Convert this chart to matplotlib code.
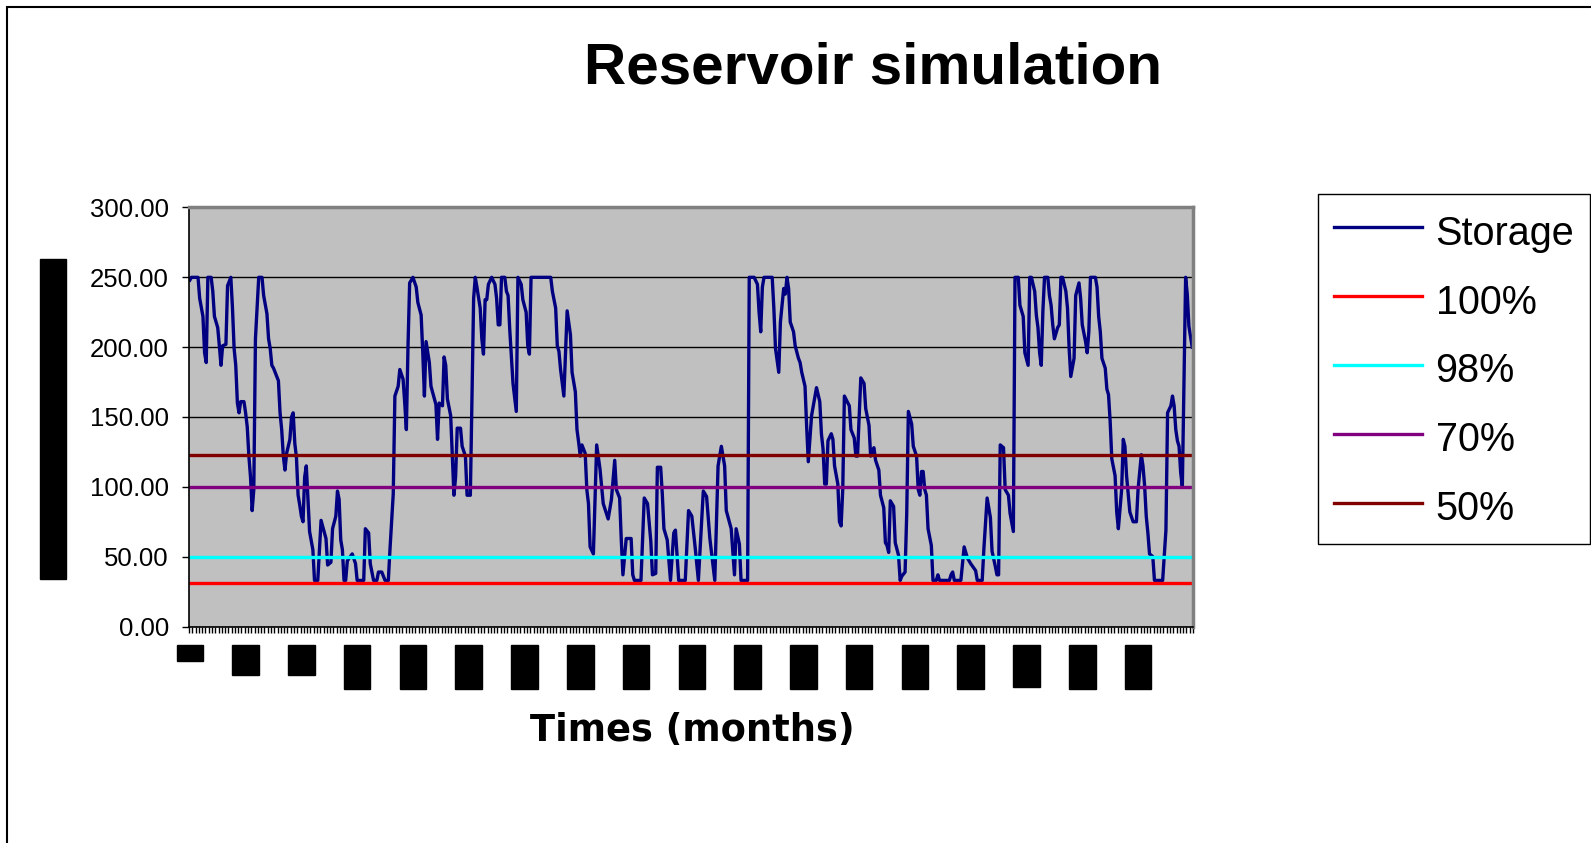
import numpy as np
import matplotlib
matplotlib.use("Agg")
import matplotlib.pyplot as plt
from matplotlib.patches import Rectangle

plt.rcParams["font.family"] = ["Liberation Sans", "DejaVu Sans"]

n_months = 612
label_step = 34

# corner points of the monthly storage series
months = [
    1, 2, 6, 7, 9, 10, 11, 12, 14, 15,
    16, 18, 19, 20, 21, 23, 24, 26, 27, 28,
    29, 30, 31, 32, 34, 35, 36, 37, 38, 39,
    40, 41, 43, 45, 46, 48, 49, 50, 51, 52,
    53, 55, 56, 57, 58, 59, 60, 62, 63, 64,
    65, 66, 67, 68, 69, 70, 71, 72, 74, 76,
    77, 79, 80, 81, 84, 85, 87, 88, 90, 91,
    92, 93, 94, 95, 96, 97, 100, 102, 103, 107,
    108, 110, 111, 113, 115, 116, 118, 120, 122, 123,
    125, 126, 128, 129, 131, 132, 133, 134, 135, 137,
    139, 140, 142, 143, 144, 145, 147, 148, 151, 152,
    153, 155, 156, 157, 158, 160, 161, 162, 163, 164,
    166, 167, 169, 170, 172, 174, 175,
    176, 178, 179, 180, 181, 182, 183, 185, 187, 188,
    189, 190, 191, 193, 194, 195, 196, 198, 200, 201,
    203, 204, 206, 207, 208, 209, 221, 222, 224, 225,
    226, 227, 229, 231, 233, 234, 236, 237, 238, 239,
    240, 242, 243, 244, 245, 247, 249, 251, 253, 256,
    258, 260, 261, 263, 264, 265, 267, 270, 271, 272,
    276, 278, 280, 282, 283, 285, 286, 288, 289, 290,
    292, 294, 296, 297, 299, 303, 305, 307, 309, 311,
    314, 316, 318, 321, 323, 325, 327, 328, 331, 333,
    334, 336, 337, 341, 342,
    345, 347, 348, 349, 350, 351, 356, 357, 358, 360,
    361, 363, 364, 365, 366, 367, 369, 370, 372, 373,
    374, 376, 377, 378, 380, 383, 385, 386, 387, 388,
    389, 390, 392, 393, 394, 396, 397, 398, 399, 400,
    403, 404, 406, 407, 408, 410, 412, 413, 415, 416,
    417, 418, 419, 421, 422, 424, 425, 426, 427, 428,
    430, 431, 433, 434, 435, 437, 438, 439, 441, 442,
    444, 445, 446, 447, 448, 449, 450, 451, 453, 454,
    456, 457, 458, 464, 465, 466, 467, 471, 473, 475,
    477, 480, 481, 484, 485, 487, 489, 490, 492, 493,
    494, 495,
    497, 498, 500, 501, 503, 504, 506, 507, 509, 510,
    512, 513, 514, 516, 517, 518, 519, 520, 521, 522,
    524, 525, 526, 527, 528, 530, 531, 532, 533, 535,
    536, 537, 538, 540, 541, 543, 544, 545, 547, 548,
    549, 550, 553, 554, 555, 556, 557, 559, 560, 561,
    562, 563, 565, 566, 567, 569, 570, 571, 572, 574,
    576, 578, 579, 581, 582, 583, 584, 585, 586, 588,
    589, 594, 596, 597, 599, 600, 601, 602, 603, 604,
    605, 606, 607, 608, 609, 610, 612,
]
storage = [
    248, 250, 250, 235, 222, 196, 189, 250, 250, 240,
    222, 214, 201, 187, 201, 202, 244, 250, 228, 199,
    187, 160, 153, 161, 161, 153, 143, 122, 107, 83,
    98, 206, 250, 250, 237, 224, 206, 199, 187, 185,
    182, 176, 153, 141, 122, 112, 124, 134, 150, 153,
    131, 121, 94, 87, 79, 75, 107, 115, 68, 55,
    33, 33, 55, 76, 63, 44, 46, 70, 79, 97,
    91, 62, 55, 33, 33, 47, 52, 45, 33, 33,
    70, 67, 45, 33, 33, 39, 39, 33, 33, 55,
    95, 165, 172, 184, 177, 160, 141, 201, 246, 250,
    243, 232, 223, 196, 165, 204, 189, 172, 159, 134,
    160, 158, 193, 187, 163, 151, 122, 94, 107, 142,
    142, 129, 122, 94, 94, 235, 250,
    243, 228, 206, 195, 234, 234, 245, 250, 245, 235,
    216, 216, 250, 250, 240, 237, 213, 174, 154, 250,
    245, 234, 225, 201, 195, 250, 250, 240, 228, 201,
    197, 184, 165, 226, 209, 182, 168, 141, 132, 122,
    130, 124, 98, 88, 57, 52, 130, 113, 88, 77,
    91, 119, 98, 92, 62, 37, 63, 63, 37, 33,
    33, 92, 88, 61, 37, 38, 114, 114, 95, 70,
    62, 33, 67, 69, 33, 33, 83, 79, 57, 33,
    97, 93, 63, 33, 115, 129, 115, 83, 70, 37,
    70, 59, 33, 33, 250,
    250, 245, 225, 211, 243, 250, 250, 228, 199, 182,
    218, 242, 238, 250, 242, 218, 211, 201, 192, 189,
    182, 172, 143, 118, 151, 171, 161, 138, 127, 102,
    102, 133, 138, 134, 115, 102, 75, 72, 98, 165,
    158, 141, 135, 122, 122, 178, 174, 156, 144, 122,
    126, 128, 119, 112, 94, 85, 60, 58, 53, 90,
    86, 60, 51, 33, 36, 39, 81, 154, 145, 129,
    122, 98, 94, 111, 111, 98, 94, 70, 58, 33,
    33, 37, 33, 33, 37, 39, 33, 33, 57, 49,
    45, 40, 33, 33, 55, 92, 78, 54, 43, 37,
    37, 130,
    128, 98, 94, 81, 68, 250, 250, 230, 222, 196,
    187, 250, 250, 240, 223, 214, 196, 187, 226, 250,
    250, 237, 230, 216, 206, 214, 216, 250, 250, 240,
    228, 199, 179, 192, 237, 246, 235, 216, 204, 196,
    211, 250, 250, 243, 222, 211, 192, 185, 170, 166,
    147, 120, 108, 82, 70, 98, 134, 129, 108, 82,
    75, 75, 98, 123, 115, 101, 79, 67, 52, 50,
    33, 33, 69, 153, 158, 165, 158, 141, 133, 129,
    110, 100, 175, 250, 238, 215, 200,
]
assert len(months) == len(storage)

levels = ["100%", "98%", "70%", "50%"]
level_values = [31.0, 49.5, 100.0, 123.0]
level_colors = ["#FF0000", "#00FFFF", "#800080", "#800000"]

fig = plt.figure(figsize=(15.91, 8.43), dpi=100)
ax = fig.add_axes([189 / 1591, 1 - 626.5 / 843, 1004 / 1591, 419 / 843])
ax.set_facecolor("#C0C0C0")

ax.plot(months, storage, color="#000080", lw=2.4, label="Storage")
for name, val, col in zip(levels, level_values, level_colors):
    ax.plot([1, n_months], [val, val], color=col, lw=2.4, label=name)

ax.set_xlim(0.5, n_months + 0.5)
ax.set_ylim(0, 300)

# y axis
ax.set_yticks(np.arange(0, 301, 50))
ax.yaxis.set_major_formatter(lambda v, p: f"{v:.2f}")
ax.yaxis.grid(True, color="black", lw=1.0)
ax.set_axisbelow(True)
ax.tick_params(axis="y", direction="out", length=5, width=1, pad=9.5, labelsize=18.5)

# x axis: label every 34 months, tick mark every 2
ticks = np.arange(1, n_months + 1, label_step)
ax.set_xticks(ticks)
ax.set_xticklabels([str(t) for t in ticks], rotation=90, fontsize=18, color="black",
                   bbox=dict(boxstyle="square,pad=0.05", fc="black", ec="black"))
ax.set_xticks(np.arange(0.5, n_months + 1, 2), minor=True)
ax.tick_params(axis="x", which="major", length=0, pad=14)
ax.tick_params(axis="x", which="minor", direction="out", length=4.5, width=1)

for s in ["left", "bottom"]:
    ax.spines[s].set_color("black")
    ax.spines[s].set_linewidth(1.2)
for s in ["top", "right"]:
    ax.spines[s].set_color("#808080")
    ax.spines[s].set_linewidth(2.5)

fig.text(53 / 1591, 1 - 419 / 843, "Storage (million cubic meter)", rotation=90,
         ha="center", va="center", fontsize=18,
         bbox=dict(boxstyle="square,pad=0.05", fc="black", ec="black"))

fig.text(0.549, 1 - 84 / 843, "Reservoir simulation", fontsize=42,
         fontweight="bold", ha="center", va="baseline")
fig.text(0.435, 1 - 741 / 843, "Times (months)", family="DejaVu Sans",
         fontweight="bold", fontsize=26.5, ha="center", va="baseline")

leg = fig.legend(loc="upper left", bbox_to_anchor=(1318 / 1591, 1 - 194 / 843),
                 bbox_transform=fig.transFigure, fontsize=28.5, frameon=True,
                 fancybox=False, edgecolor="black", framealpha=1, borderpad=0.4,
                 labelspacing=0.65, handleheight=1.3, handlelength=2.22,
                 handletextpad=0.35, borderaxespad=0)
leg.get_frame().set_linewidth(1.0)

# outer chart frame
fig.add_artist(Rectangle((7 / 1591, -0.1), 1.2, 1.1 - 7 / 843, transform=fig.transFigure,
                         fill=False, ec="black", lw=1.5))

fig.savefig("out.png", dpi=100)
